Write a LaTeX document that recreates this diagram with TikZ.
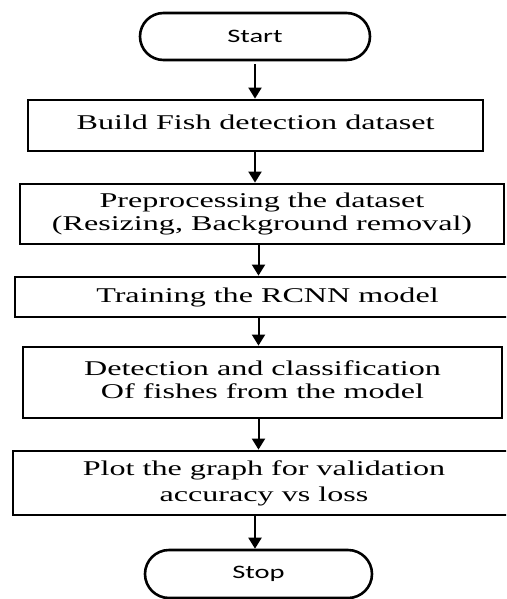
\documentclass[tikz,border=0pt]{standalone}
\usepackage{fontspec}
\setmainfont{Liberation Serif}
\newfontfamily\calibfont{Carlito}
\usetikzlibrary{shapes.misc,arrows.meta}
\newcommand{\widetext}[1]{\scalebox{1.53}[1]{#1}}
\newcommand{\widesans}[1]{\scalebox{1.5}[1]{#1}}
\begin{document}
\begin{tikzpicture}[x=1pt,y=-1pt,
  box/.style={draw, line width=2.8pt, rectangle, inner sep=0pt,
    font=\fontsize{21}{23}\selectfont},
  term/.style={draw, line width=2.6pt, rounded rectangle, inner sep=0pt,
    font=\calibfont\fontsize{19}{21}\selectfont},
  arr/.style={line width=2pt, -{Triangle[width=13pt,length=11pt]}}]
\useasboundingbox (0,0) rectangle (506,599);
\clip (0,0) rectangle (506,599);

\node[term, minimum width=230pt, minimum height=47pt] (start) at (255,36.5) {\widesans{Start}};

\node[box, minimum width=455pt, minimum height=51pt] (b1) at (255.5,125.5)
  {\raisebox{7pt}{\widetext{Build Fish detection dataset}}};

\node[box, minimum width=484pt, minimum height=60pt] (b2) at (262,214)
  {\widetext{\begin{tabular}{@{}c@{}}Preprocessing the dataset\\(Resizing, Background removal)\end{tabular}}};

\node[box, minimum width=505pt, minimum height=40pt] (b3) at (267.5,297)
  {\widetext{Training the RCNN model}};

\node[box, minimum width=479pt, minimum height=71pt] (b4) at (262.5,382.5)
  {\raisebox{6pt}{\widetext{\begin{tabular}{@{}c@{}}Detection and classification\\Of fishes from the model\end{tabular}}}};

\node[box, minimum width=502pt, minimum height=64pt, font=\fontsize{21}{26}\selectfont] (b5) at (264,483)
  {\raisebox{4pt}{\widetext{\begin{tabular}{@{}c@{}}Plot the graph for validation\\accuracy vs loss\end{tabular}}}};

\node[term, minimum width=227pt, minimum height=48pt] (stop) at (258.5,574) {\widesans{Stop}};

\draw[arr] ([yshift=-3pt]start.south) -- (start.south |- b1.north);
\draw[arr] (start.south |- b1.south) -- (start.south |- b2.north);
\draw[arr] (stop.north |- b2.south) -- (stop.north |- b3.north);
\draw[arr] (stop.north |- b3.south) -- (stop.north |- b4.north);
\draw[arr] (stop.north |- b4.south) -- (stop.north |- b5.north);
\draw[arr] (start.south |- b5.south) -- (start.south |- stop.north);
\end{tikzpicture}
\end{document}
